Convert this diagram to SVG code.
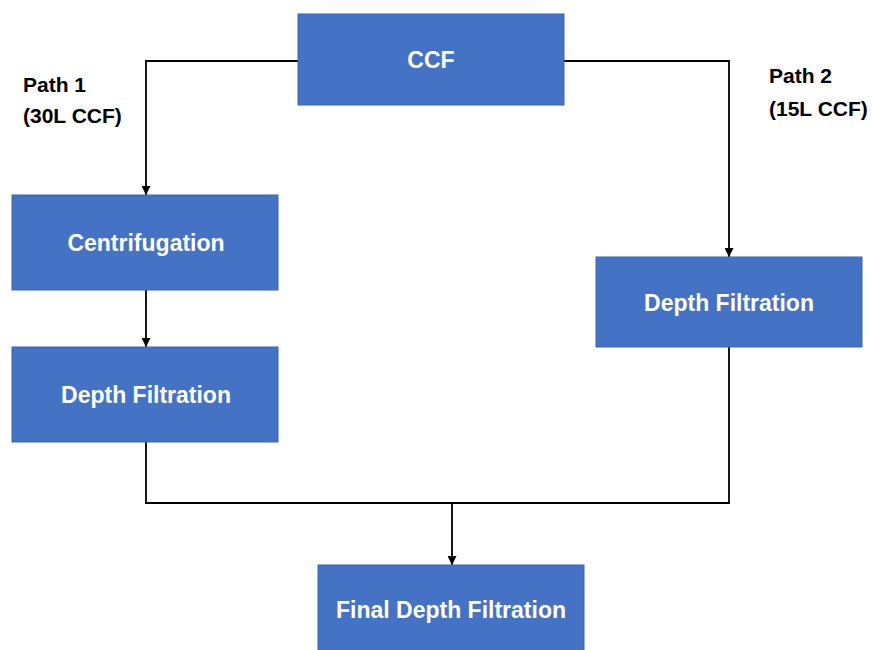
<svg xmlns="http://www.w3.org/2000/svg" width="872" height="650" viewBox="0 0 872 650">
<style>
.box{fill:#4472C4;stroke:#3A64AE;stroke-width:1}
.lbl{fill:#fff;font-family:"Liberation Sans",Arial,sans-serif;font-weight:bold;font-size:23px;text-anchor:middle}
.note{fill:#000;font-family:"Liberation Sans",Arial,sans-serif;font-weight:bold;font-size:21px}
.conn{fill:none;stroke:#000;stroke-width:1.8}
</style>
<defs>
<marker id="arr" viewBox="0 0 10 10" refX="10" refY="5" markerWidth="10" markerHeight="9" markerUnits="userSpaceOnUse" orient="auto">
<path d="M0,0 L10,5 L0,10 Z" fill="#000"/>
</marker>
</defs>
<rect width="872" height="650" fill="#fff"/>
<g id="connectors">
<polyline class="conn" points="298,61 146,61 146,195" marker-end="url(#arr)"/>
<polyline class="conn" points="564,61 729,61 729,257" marker-end="url(#arr)"/>
<polyline class="conn" points="146,290 146,347" marker-end="url(#arr)"/>
<polyline class="conn" points="146,442 146,503 729,503 729,347"/>
<polyline class="conn" points="452,503 452,565" marker-end="url(#arr)"/>
</g>
<g id="ccf">
<rect class="box" x="298" y="14" width="266" height="91"/>
<text class="lbl" x="431" y="68">CCF</text>
</g>
<g id="centrifugation">
<rect class="box" x="12" y="195" width="266" height="95"/>
<text class="lbl" x="146" y="251">Centrifugation</text>
</g>
<g id="depth-left">
<rect class="box" x="12" y="347" width="266" height="95"/>
<text class="lbl" x="146" y="403">Depth Filtration</text>
</g>
<g id="depth-right">
<rect class="box" x="596" y="257" width="266" height="90"/>
<text class="lbl" x="729" y="311">Depth Filtration</text>
</g>
<g id="final">
<rect class="box" x="318" y="565" width="266" height="95"/>
<text class="lbl" x="451" y="618">Final Depth Filtration</text>
</g>
<g id="path1">
<text class="note" x="23" y="92">Path 1</text>
<text class="note" x="23" y="123">(30L CCF)</text>
</g>
<g id="path2">
<text class="note" x="769" y="83">Path 2</text>
<text class="note" x="769" y="116">(15L CCF)</text>
</g>
</svg>
